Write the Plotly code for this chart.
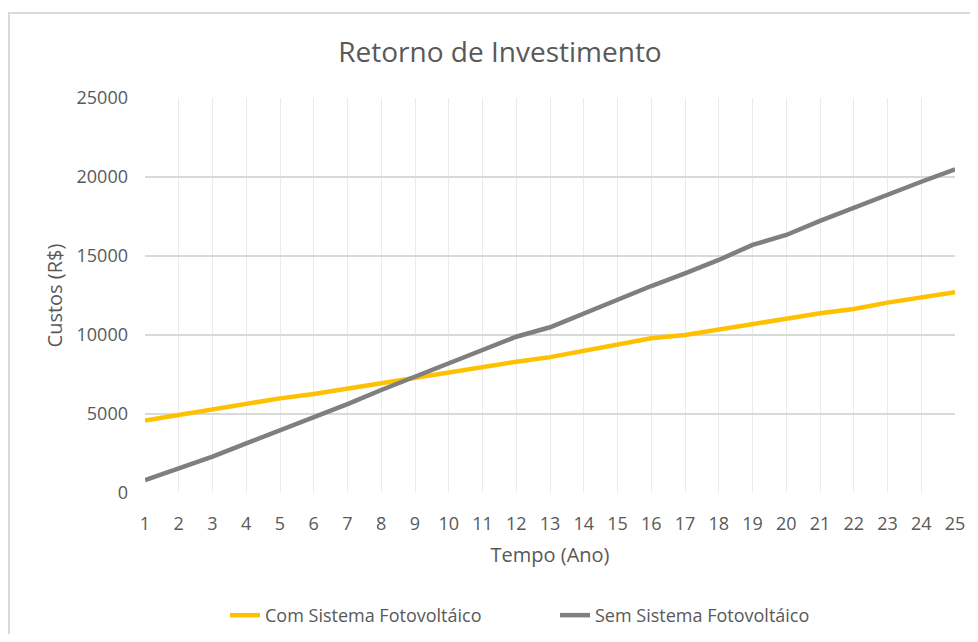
import plotly.graph_objects as go

# dados do gráfico
anos = list(range(1, 26))
com_sistema = [4580, 4940, 5300, 5670, 5990, 6270, 6620, 6980, 7320, 7680,
               7990, 8310, 8600, 8990, 9430, 9790, 10000, 10320, 10680, 11030,
               11370, 11650, 12050, 12380, 12700]
sem_sistema = [820, 1560, 2300, 3140, 3950, 4770, 5630, 6520, 7360, 8210,
               9050, 9890, 10490, 11370, 12260, 13100, 13900, 14750, 15700, 16330,
               17220, 18060, 18860, 19700, 20490]
ticks_y = [0, 5000, 10000, 15000, 20000, 25000]

FONTE = "Open Sans"
CINZA_TXT = "#595959"

# a página tem 8px de margem no body, por isso a figura é um pouco menor
L, R, T, B = 137, 15, 90, 141
W, H = 962, 626
PW, PH = W - L - R, H - T - B

fig = go.Figure()

fig.add_trace(go.Scatter(
    x=anos, y=com_sistema, mode="lines", name="Com Sistema Fotovoltáico",
    line=dict(color="#FFC000", width=4.5),
))
fig.add_trace(go.Scatter(
    x=anos, y=sem_sistema, mode="lines", name="Sem Sistema Fotovoltáico",
    line=dict(color="#7F7F7F", width=4.5),
))

# moldura do gráfico (estilo Excel)
fig.add_shape(
    type="rect", xref="paper", yref="paper",
    x0=-(L - 1) / PW, x1=1.2, y0=-0.5, y1=1 + (T - 5) / PH,
    line=dict(color="#D9D9D9", width=2), layer="below",
)

fig.update_layout(
    width=W, height=H,
    paper_bgcolor="white", plot_bgcolor="white",
    margin=dict(l=L, r=R, t=T, b=B, autoexpand=False),
    font=dict(family=FONTE, color=CINZA_TXT, size=17),
    title=dict(text="Retorno de Investimento", x=492 / W, xanchor="center",
               y=1 - 44 / H, yanchor="middle",
               font=dict(family=FONTE, size=28, color=CINZA_TXT)),
    legend=dict(orientation="h", x=(225 - 8 - L) / PW, xanchor="left",
                y=-0.310, yanchor="middle",
                font=dict(family=FONTE, size=18, color=CINZA_TXT),
                entrywidth=285, entrywidthmode="pixels", tracegroupgap=0),
    showlegend=True,
)

fig.update_xaxes(
    range=[1, 25], tickmode="array", tickvals=anos,
    showgrid=True, gridcolor="#EBEBEB", gridwidth=1,
    showline=False, zeroline=False, ticks="", ticklabelstandoff=18,
    tickfont=dict(size=18),
    title=dict(text="Tempo (Ano)", font=dict(size=20, color=CINZA_TXT), standoff=13),
)
fig.update_yaxes(
    range=[0, 25000], tickmode="array", tickvals=ticks_y,
    ticktext=[str(v) for v in ticks_y],
    showgrid=True, gridcolor="#D9D9D9", gridwidth=1.5,
    showline=False, zeroline=False, ticks="", ticklabelstandoff=16,
    tickfont=dict(size=18),
    title=dict(text="Custos (R$)", font=dict(size=20, color=CINZA_TXT), standoff=8),
)

fig.write_html("out.html")
